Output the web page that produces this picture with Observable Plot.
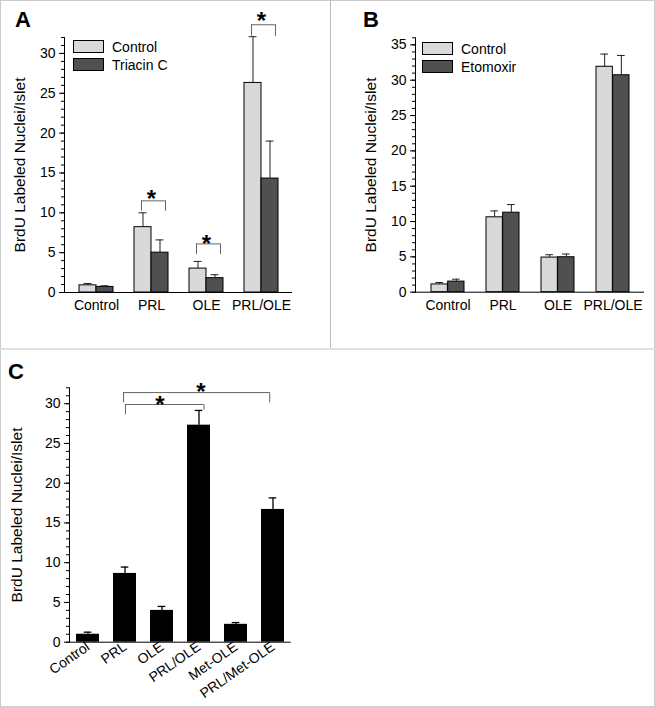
<!DOCTYPE html>
<html><head><meta charset="utf-8">
<script src="https://cdn.jsdelivr.net/npm/d3@7"></script>
<script src="https://cdn.jsdelivr.net/npm/@observablehq/plot@0.6"></script>
<style>
body{margin:0;background:#fff;font-family:"Liberation Sans",Arial,sans-serif;}
#fig{position:relative;width:655px;height:707px;overflow:hidden;background:#fff;}
#fig svg{font-family:"Liberation Sans",Arial,sans-serif !important;}
.abs{position:absolute;}
.plabel{position:absolute;font-weight:bold;font-size:22px;line-height:22px;color:#000;}
.lgbox{position:absolute;box-sizing:border-box;border:1px solid #000;}
.lgtext{position:absolute;font-size:14px;line-height:14px;color:#000;white-space:nowrap;}
</style></head><body><div id="fig"></div>
<script>
// ---------- data ----------
const yLabel = "BrdU Labeled Nuclei/Islet";
const catsAB = ["Control", "PRL", "OLE", "PRL/OLE"];

const seriesA = ["Control", "Triacin C"];
const controlA = [0.9, 8.2, 3.0, 26.3];
const controlAErr = [0.23, 1.8, 0.9, 5.8];
const triacinA = [0.7, 5.0, 1.8, 14.3];
const triacinAErr = [0.14, 1.6, 0.43, 4.7];
const bracketsA = [
  {cat: "PRL", top: 11.5, bottom: 10.2, star: 12.55},
  {cat: "OLE", top: 6.1, bottom: 4.75, star: 6.95},
  {cat: "PRL/OLE", top: 33.6, bottom: 32.15, star: 34.9}
];
const majorTicksA = [0, 5, 10, 15, 20, 25, 30];
const minorTicksA = d3.range(0, 33, 1);

const seriesB = ["Control", "Etomoxir"];
const controlB = [1.1, 10.6, 4.9, 31.9];
const controlBErr = [0.27, 0.9, 0.4, 1.8];
const etomoxirB = [1.5, 11.25, 4.95, 30.7];
const etomoxirBErr = [0.34, 1.15, 0.45, 2.8];
const majorTicksB = [0, 5, 10, 15, 20, 25, 30, 35];
const minorTicksB = d3.range(0, 37, 1);

const catsC = ["Control", "PRL", "OLE", "PRL/OLE", "Met-OLE", "PRL/Met-OLE"];
const valuesC = [1.0, 8.65, 4.0, 27.3, 2.25, 16.7];
const errC = [0.26, 0.8, 0.5, 1.85, 0.22, 1.45];
const bracketsC = [
  {from: "PRL", to: "PRL/OLE", top: 29.9, bottomFrom: 28.6, bottomTo: 29.2, star: 30.65, starAt: "OLE"},
  {from: "PRL", to: "PRL/Met-OLE", top: 31.4, bottomFrom: 30.1, bottomTo: 30.1, star: 32.3, starAt: "PRL/OLE"}
];
const majorTicksC = [0, 5, 10, 15, 20, 25, 30];
const minorTicksC = d3.range(0, 33, 1);

// ---------- styles ----------
const LIGHT = "#d9d9d9", DARK = "#505050", BRK = "#666", ERR = "#222";
const FONT = '"Liberation Sans", Arial, sans-serif';
const STAR = 24;

function axesY(major, minor, labelDx) {
  return [
    Plot.axisY(minor, {tickSize: 3, tickFormat: () => "", label: null, stroke: "#000"}),
    Plot.axisY(major, {tickSize: 5, tickPadding: 4, fontSize: 14, label: null, stroke: "#000"}),
    Plot.frame({anchor: "left", stroke: "#000"}),
    Plot.ruleY([0], {stroke: "#000"}),
    Plot.text([yLabel], {text: d => d, frameAnchor: "left", textAnchor: "middle", lineAnchor: "middle", rotate: -90, dx: labelDx, fontSize: 15.5})
  ];
}

function grouped(o) {
  const n = o.cats.length;
  const step = (o.width - o.ml - o.mr) / (n - o.pi + 2 * o.po);
  const bw = step * (1 - o.pi);
  const half = bw / 2, q = bw / 4, cap = 8;
  const rows = o.cats.map((c, i) => ({cat: c, a: o.a[i], ae: o.aErr[i], b: o.b[i], be: o.bErr[i]}));
  const br = o.brackets || [];
  return Plot.plot({
    width: o.width, height: o.height,
    marginLeft: o.ml, marginRight: o.mr, marginTop: o.mt, marginBottom: o.mb,
    style: {fontFamily: FONT, fontSize: "14px", color: "#000", background: "transparent", overflow: "visible"},
    x: {type: "band", domain: o.cats, paddingInner: o.pi, paddingOuter: o.po},
    y: {domain: [0, o.yMax]},
    marks: [
      Plot.barY(rows, {x: "cat", y: "a", fill: LIGHT, stroke: "#000", strokeWidth: 1, insetRight: half}),
      Plot.barY(rows, {x: "cat", y: "b", fill: DARK, stroke: "#000", strokeWidth: 1, insetLeft: half}),
      Plot.ruleX(rows, {x: "cat", y1: "a", y2: d => d.a + d.ae, dx: -q, stroke: ERR}),
      Plot.ruleX(rows, {x: "cat", y1: "b", y2: d => d.b + d.be, dx: q, stroke: ERR}),
      Plot.tickY(rows, {x: "cat", y: d => d.a + d.ae, insetLeft: q - cap / 2, insetRight: bw - q - cap / 2, stroke: ERR}),
      Plot.tickY(rows, {x: "cat", y: d => d.b + d.be, insetLeft: bw - q - cap / 2, insetRight: q - cap / 2, stroke: ERR}),
      Plot.ruleY(br, {x1: "cat", x2: "cat", y: "top", insetLeft: 7, insetRight: 3, stroke: BRK}),
      Plot.ruleX(br, {x: "cat", y1: "bottom", y2: "top", dx: -half + 7, stroke: BRK}),
      Plot.ruleX(br, {x: "cat", y1: "bottom", y2: "top", dx: half - 3, stroke: BRK}),
      Plot.text(br, {x: "cat", y: "star", text: () => "*", fontSize: STAR, fontWeight: "bold", dy: 7}),
      Plot.axisX({tickSize: 0, tickPadding: 8, fontSize: 14, label: null}),
      ...axesY(o.major, o.minor, o.labelDx)
    ]
  });
}

function single(o) {
  const n = o.cats.length;
  const step = (o.width - o.ml - o.mr) / (n - o.pi + 2 * o.po);
  const bw = step * (1 - o.pi), cap = 8;
  const rows = o.cats.map((c, i) => ({cat: c, v: o.v[i], e: o.err[i]}));
  const br = o.brackets;
  return Plot.plot({
    width: o.width, height: o.height,
    marginLeft: o.ml, marginRight: o.mr, marginTop: o.mt, marginBottom: o.mb,
    style: {fontFamily: FONT, fontSize: "14px", color: "#000", background: "transparent", overflow: "visible"},
    x: {type: "band", domain: o.cats, paddingInner: o.pi, paddingOuter: o.po},
    y: {domain: [0, o.yMax]},
    marks: [
      Plot.barY(rows, {x: "cat", y: "v", fill: "#000"}),
      Plot.ruleX(rows, {x: "cat", y1: "v", y2: d => d.v + d.e, stroke: "#000", strokeWidth: 1.3}),
      Plot.tickY(rows, {x: "cat", y: d => d.v + d.e, insetLeft: (bw - cap) / 2, insetRight: (bw - cap) / 2, stroke: "#000", strokeWidth: 1.3}),
      // inner bracket
      Plot.ruleY([br[0]], {x1: "from", x2: "to", y: "top", insetLeft: 12, insetRight: 6.6, stroke: BRK}),
      Plot.ruleX([br[0]], {x: "from", y1: "bottomFrom", y2: "top", dx: 0.5, stroke: BRK}),
      Plot.ruleX([br[0]], {x: "to", y1: "bottomTo", y2: "top", dx: 5, stroke: BRK}),
      // outer bracket
      Plot.ruleY([br[1]], {x1: "from", x2: "to", y: "top", insetLeft: 10, insetRight: 15, stroke: BRK}),
      Plot.ruleX([br[1]], {x: "from", y1: "bottomFrom", y2: "top", dx: -1.5, stroke: BRK}),
      Plot.ruleX([br[1]], {x: "to", y1: "bottomTo", y2: "top", dx: -3.3, stroke: BRK}),
      Plot.text([br[0]], {x: "starAt", y: "star", text: () => "*", fontSize: STAR, fontWeight: "bold", dy: 7, dx: -2}),
      Plot.text([br[1]], {x: "starAt", y: "star", text: () => "*", fontSize: STAR, fontWeight: "bold", dy: 7, dx: 2}),
      Plot.axisX({tickSize: 0, tickPadding: 3, tickRotate: -35, fontSize: 14, label: null}),
      ...axesY(o.major, o.minor, o.labelDx)
    ]
  });
}

const fig = document.getElementById("fig");
function place(el, left, top) {
  el.style.position = "absolute"; el.style.left = left + "px"; el.style.top = top + "px";
  fig.appendChild(el);
}
function div(cls, text) { const d = document.createElement("div"); d.className = cls; if (text != null) d.textContent = text; return d; }
function rect(left, top, w, h, color) {
  const d = div("abs"); d.style.width = w + "px"; d.style.height = h + "px"; d.style.background = color; place(d, left, top);
}
function legend(series, fills, left, top) {
  series.forEach((s, i) => {
    const b = div("lgbox"); b.style.width = "31px"; b.style.height = "13px"; b.style.background = fills[i];
    place(b, left, top + i * 18.4);
    const t = div("lgtext", s); place(t, left + 39, top + i * 18.4 - 0.5);
  });
}

// Panel A
place(grouped({
  cats: catsAB, a: controlA, aErr: controlAErr, b: triacinA, bErr: triacinAErr,
  brackets: bracketsA, yMax: 32, major: majorTicksA, minor: minorTicksA,
  width: 330, height: 349, ml: 64, mr: 38, mt: 37, mb: 57, pi: 0.386, po: 0.25, labelDx: -44
}), 0, 0);
// Panel B
place(grouped({
  cats: catsAB, a: controlB, aErr: controlBErr, b: etomoxirB, bErr: etomoxirBErr,
  brackets: [], yMax: 36, major: majorTicksB, minor: minorTicksB,
  width: 325, height: 349, ml: 85, mr: 11, mt: 37.3, mb: 57.3, pi: 0.402, po: 0.256, labelDx: -44
}), 330, 0);
// Panel C
place(single({
  cats: catsC, v: valuesC, err: errC, brackets: bracketsC, yMax: 32,
  major: majorTicksC, minor: minorTicksC,
  width: 330, height: 358, ml: 69, mr: 39.3, mt: 38.3, mb: 65.3, pi: 0.37, po: 0.17, labelDx: -52
}), 0, 349);

legend(seriesA, [LIGHT, DARK], 73, 40);
legend(seriesB, [LIGHT, DARK], 422, 42);

place(div("plabel", "A"), 15, 9);
place(div("plabel", "B"), 363, 9);
place(div("plabel", "C"), 8, 361);

// panel borders
rect(0, 0, 655, 1, "#cccccc");
rect(0, 706, 655, 1, "#cccccc");
rect(0, 0, 1, 707, "#cccccc");
rect(654, 0, 1, 707, "#cccccc");
rect(330, 0, 1, 349, "#bdbdbd");
rect(0, 348, 655, 2, "#e0e0e0");
</script></body></html>
